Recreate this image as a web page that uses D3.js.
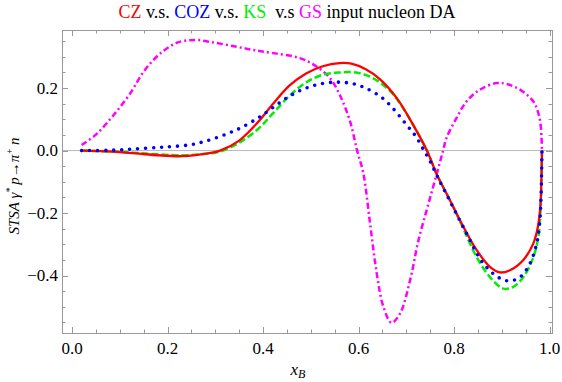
<!DOCTYPE html>
<html>
<head>
<meta charset="utf-8">
<script src="https://cdn.jsdelivr.net/npm/d3@7"></script>
<style>
body { margin: 0; background: #fff; }
text { font-family: "Liberation Serif", "Times New Roman", serif; }
</style>
</head>
<body>
<script>
// sizes for the plot
var W = 562, H = 382;
var left = 62, right = 552, top_ = 30, bottom = 333;

// data
var czPts = [[0.02,0],[0.06,-0.002],[0.1,-0.005],[0.14,-0.01],[0.18,-0.015],[0.23,-0.018],[0.27,-0.012],[0.31,0.0],[0.35,0.032],[0.39,0.092],[0.42,0.148],[0.455,0.208],[0.49,0.247],[0.525,0.27],[0.56,0.28],[0.585,0.278],[0.615,0.26],[0.645,0.228],[0.68,0.168],[0.714,0.083],[0.743,0.0],[0.764,-0.077],[0.79,-0.155],[0.812,-0.222],[0.847,-0.318],[0.875,-0.372],[0.896,-0.39],[0.917,-0.383],[0.945,-0.35],[0.966,-0.297],[0.976,-0.24],[0.981,-0.17],[0.983,-0.08],[0.984,0]];
var cozPts = [[0.02,0],[0.08,0.001],[0.13,0.005],[0.18,0.01],[0.21,0.013],[0.245,0.018],[0.27,0.026],[0.3,0.04],[0.33,0.057],[0.355,0.074],[0.39,0.105],[0.42,0.137],[0.455,0.174],[0.49,0.2],[0.525,0.215],[0.555,0.219],[0.585,0.215],[0.615,0.2],[0.65,0.168],[0.675,0.13],[0.7,0.083],[0.72,0.045],[0.737,0.0],[0.75,-0.035],[0.764,-0.08],[0.79,-0.158],[0.826,-0.265],[0.861,-0.361],[0.896,-0.409],[0.917,-0.417],[0.938,-0.405],[0.959,-0.361],[0.973,-0.297],[0.979,-0.234],[0.982,-0.15],[0.984,0]];
var ksPts = [[0.02,0],[0.06,-0.002],[0.1,-0.004],[0.14,-0.008],[0.18,-0.012],[0.23,-0.015],[0.27,-0.012],[0.31,-0.003],[0.35,0.025],[0.39,0.07],[0.42,0.118],[0.455,0.175],[0.49,0.218],[0.525,0.243],[0.56,0.25],[0.595,0.25],[0.63,0.232],[0.665,0.192],[0.687,0.15],[0.714,0.083],[0.743,0.0],[0.764,-0.077],[0.79,-0.155],[0.812,-0.225],[0.847,-0.34],[0.875,-0.405],[0.903,-0.442],[0.924,-0.436],[0.945,-0.405],[0.966,-0.341],[0.977,-0.27],[0.981,-0.19],[0.983,-0.09],[0.984,0]];
var gsPts = [[0.02,0.018],[0.05,0.051],[0.085,0.11],[0.12,0.179],[0.153,0.259],[0.188,0.315],[0.223,0.347],[0.258,0.354],[0.293,0.347],[0.342,0.333],[0.38,0.322],[0.421,0.312],[0.477,0.296],[0.512,0.269],[0.54,0.232],[0.561,0.177],[0.582,0.094],[0.597,0.0],[0.61,-0.073],[0.624,-0.233],[0.638,-0.393],[0.652,-0.5],[0.669,-0.551],[0.687,-0.521],[0.708,-0.414],[0.725,-0.29],[0.75,-0.15],[0.777,0.0],[0.784,0.04],[0.805,0.104],[0.826,0.157],[0.854,0.195],[0.889,0.216],[0.91,0.213],[0.938,0.195],[0.966,0.157],[0.979,0.104],[0.983,0.04],[0.984,0.0]];

var xTicks = [0, 0.2, 0.4, 0.6, 0.8, 1.0];
var yTicks = [-0.4, -0.2, 0, 0.2];
var titleParts = [['CZ','#ff0000'],[' v.s. ','#000'],['COZ','#0000ff'],[' v.s. ','#000'],['KS','#00ee00'],['  v.s ','#000'],['GS','#ff00ff'],[' input nucleon DA','#000']];

var svg = d3.select('body').append('svg')
	.attr('width', W).attr('height', H);

var xScale = d3.scaleLinear().domain([-0.021, 1.005]).range([left, right]);
var yScale = d3.scaleLinear().domain([-0.584, 0.386]).range([bottom, top_]);

// zero line
svg.append('line')
	.attr('x1', left).attr('x2', right)
	.attr('y1', yScale(0)).attr('y2', yScale(0))
	.attr('stroke', '#b8b8b8').attr('stroke-width', 1);

// curves
var line = d3.line()
	.x(function(d){return xScale(d[0])})
	.y(function(d){return yScale(d[1])})
	.curve(d3.curveCatmullRom.alpha(0.5));

svg.append('clipPath').attr('id', 'clip').append('rect')
	.attr('x', left).attr('y', top_).attr('width', right-left).attr('height', bottom-top_);
var g = svg.append('g').attr('clip-path', 'url(#clip)');

g.append('path').datum(gsPts).attr('d', line)
	.attr('fill', 'none').attr('stroke', '#ff00ff').attr('stroke-width', 2.5)
	.attr('stroke-dasharray', '6,3,2,3');
g.append('path').datum(ksPts).attr('d', line)
	.attr('fill', 'none').attr('stroke', '#00ee00').attr('stroke-width', 2.5)
	.attr('stroke-dasharray', '7,3');
g.append('path').datum(czPts).attr('d', line)
	.attr('fill', 'none').attr('stroke', '#ff0000').attr('stroke-width', 2.3);
g.append('path').datum(cozPts).attr('d', line)
	.attr('fill', 'none').attr('stroke', '#0000ff').attr('stroke-width', 3.6)
	.attr('stroke-linecap', 'round').attr('stroke-dasharray', '0,8');

// frame
svg.append('rect')
	.attr('x', left + 0.5).attr('y', top_ + 0.5).attr('width', right-left).attr('height', bottom-top_)
	.attr('fill', 'none').attr('stroke', '#999').attr('stroke-width', 1);

// ticks on all four sides, pointing in
var xMinor = d3.range(0, 1.0001, 0.05);
var yMinor = d3.range(-0.55, 0.36, 0.05);
var ticks = svg.append('g').attr('stroke', '#999').attr('stroke-width', 1);
xMinor.forEach(function(v){
	var major = Math.abs(v*5 - Math.round(v*5)) < 1e-6;
	var len = major ? 6 : 3.5;
	var x = Math.round(xScale(v)) + 0.5;
	ticks.append('line').attr('x1', x).attr('x2', x).attr('y1', bottom).attr('y2', bottom-len);
	ticks.append('line').attr('x1', x).attr('x2', x).attr('y1', top_).attr('y2', top_+len);
});
yMinor.forEach(function(v){
	var major = Math.abs(v*5 - Math.round(v*5)) < 1e-6;
	var len = major ? 6 : 3.5;
	var y = Math.round(yScale(v)) + 0.5;
	ticks.append('line').attr('x1', left).attr('x2', left+len).attr('y1', y).attr('y2', y);
	ticks.append('line').attr('x1', right).attr('x2', right-len).attr('y1', y).attr('y2', y);
});

// tick labels
svg.selectAll('.xlab').data(xTicks).enter().append('text')
	.attr('class', 'xlab')
	.attr('x', function(d){return xScale(d)}).attr('y', 354)
	.attr('text-anchor', 'middle').attr('font-size', '17px')
	.text(function(d){return d.toFixed(1)});
svg.selectAll('.ylab').data(yTicks).enter().append('text')
	.attr('class', 'ylab')
	.attr('x', 58).attr('y', function(d){return yScale(d) + 5.5})
	.attr('text-anchor', 'end').attr('font-size', '17px')
	.text(function(d){return d.toFixed(1).replace('-', '\u2212')});

// axis labels
var xl = svg.append('text').attr('x', 298).attr('y', 375)
	.attr('text-anchor', 'middle').attr('font-size', '17px').attr('font-style', 'italic');
xl.append('tspan').text('x');
xl.append('tspan').attr('font-size', '12px').attr('dy', 3).text('B');

var yl = svg.append('text')
	.attr('transform', 'translate(19,186) rotate(-90)')
	.attr('text-anchor', 'middle').attr('font-size', '15px').attr('font-style', 'italic')
	.attr('xml:space', 'preserve').style('white-space', 'pre');
yl.append('tspan').text('STSA \u03b3');
yl.append('tspan').attr('font-size', '10px').attr('dy', -6).text('*');
yl.append('tspan').attr('dy', 6).text('\u2009p');
yl.append('tspan').attr('font-style', 'normal').text('\u2192');
yl.append('tspan').text('\u03c0');
yl.append('tspan').attr('font-size', '10px').attr('dy', -6).text('+');
yl.append('tspan').attr('dy', 6).text('\u2009n');

// title
var title = svg.append('text').attr('x', 287).attr('y', 18)
	.attr('text-anchor', 'middle').attr('font-size', '18px')
	.attr('xml:space', 'preserve').style('white-space', 'pre');
titleParts.forEach(function(p){
	title.append('tspan').attr('fill', p[1]).text(p[0]);
});
</script>
</body>
</html>
